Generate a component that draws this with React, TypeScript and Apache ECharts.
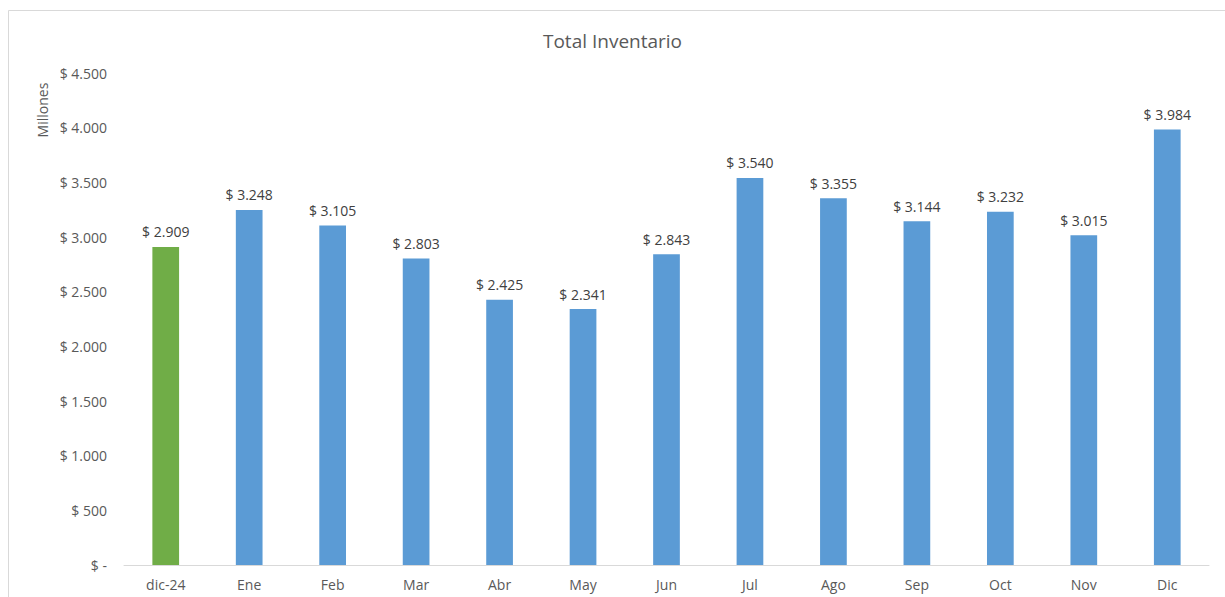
import React, { useEffect, useRef } from "react";
import * as echarts from "echarts";

const categories = ["dic-24", "Ene", "Feb", "Mar", "Abr", "May", "Jun", "Jul", "Ago", "Sep", "Oct", "Nov", "Dic"];
const values = [2909, 3248, 3105, 2803, 2425, 2341, 2843, 3540, 3355, 3144, 3232, 3015, 3984];
const barColors = ["#70AD47", "#5B9BD5", "#5B9BD5", "#5B9BD5", "#5B9BD5", "#5B9BD5", "#5B9BD5", "#5B9BD5", "#5B9BD5", "#5B9BD5", "#5B9BD5", "#5B9BD5", "#5B9BD5"];
const title = "Total Inventario";
const yName = "Millones";

const fmt = (v: number) => {
  if (v === 0) return "$ -";
  const s = Math.round(v).toString().replace(/\B(?=(\d{3})+(?!\d))/g, ".");
  return "$ " + s;
};

const FONT = "'Open Sans', 'Noto Sans', sans-serif";

export default function App() {
  const ref = useRef<HTMLDivElement>(null);
  useEffect(() => {
    if (!ref.current) return;
    const chart = echarts.init(ref.current, null, { renderer: "svg" });
    chart.setOption({
      animation: false,
      backgroundColor: "#ffffff",
      textStyle: { fontFamily: FONT },
      title: {
        text: title,
        left: "center",
        top: 26,
        textStyle: { fontFamily: FONT, fontSize: 19, fontWeight: "normal", color: "#595959" },
      },
      graphic: [
        {
          type: "rect",
          shape: { x: 8.5, y: 10.5, width: 1400, height: 800 },
          style: { fill: "none", stroke: "#d9d9d9", lineWidth: 1 },
          silent: true,
        },
        {
          type: "text",
          x: 42,
          y: 110,
          rotation: Math.PI / 2,
          style: {
            text: yName,
            fontFamily: FONT,
            fontSize: 14,
            fill: "#595959",
            align: "center",
            verticalAlign: "middle",
          },
        },
      ],
      grid: { left: 124, right: 16, top: 73, bottom: 32, containLabel: false },
      xAxis: {
        type: "category",
        data: categories,
        axisTick: { show: false },
        axisLine: { lineStyle: { color: "#d9d9d9", width: 1 } },
        axisLabel: { color: "#595959", fontSize: 14, fontFamily: FONT, margin: 12 },
      },
      yAxis: {
        type: "value",
        min: 0,
        max: 4500,
        interval: 500,
        splitLine: { show: false },
        axisLine: { show: false },
        axisTick: { show: false },
        axisLabel: { color: "#595959", fontSize: 14, fontFamily: FONT, margin: 17, formatter: (v: number) => fmt(v) },
      },
      series: [
        {
          type: "bar",
          data: values.map((v, i) => ({ value: v, itemStyle: { color: barColors[i] } })),
          barWidth: "32%",
          label: {
            show: true,
            position: "top",
            distance: 8,
            color: "#404040",
            fontSize: 14,
            fontFamily: FONT,
            formatter: (p: any) => fmt(p.value),
          },
        },
      ],
    });
    return () => chart.dispose();
  }, []);
  return (
    <div
      ref={ref}
      style={{ position: "fixed", left: 0, top: 0, width: 1225, height: 597 }}
    />
  );
}
